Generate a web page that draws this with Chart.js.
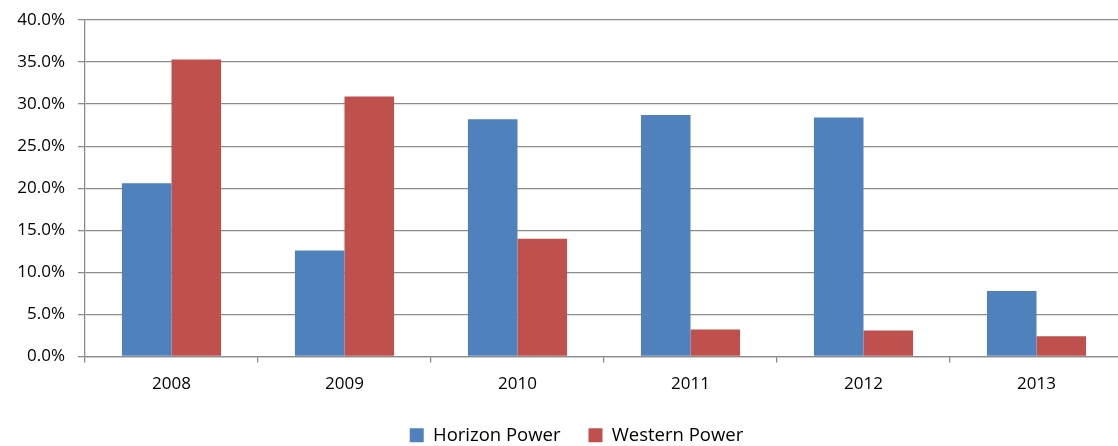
<!DOCTYPE html>
<html>
<head>
<meta charset="utf-8">
<script src="https://cdn.jsdelivr.net/npm/chart.js@4/dist/chart.umd.min.js"></script>
<style>
  html, body { margin: 0; padding: 0; background: #fff; overflow: hidden; }
  #wrap { width: 1126px; height: 446px; position: relative; }
</style>
</head>
<body>
<div id="wrap"><canvas id="barChart"></canvas></div>
<script>
const years = ["2008", "2009", "2010", "2011", "2012", "2013"];
const horizonPower = [20.6, 12.6, 28.2, 28.7, 28.4, 7.8];
const westernPower = [35.3, 30.9, 14.0, 3.2, 3.1, 2.4];
const yTicks = [0, 5, 10, 15, 20, 25, 30, 35, 40];

const axisGrey = '#8c8c8c';
const fontFamily = "'Open Sans', 'Liberation Sans', sans-serif";
const labelFont = { family: fontFamily, size: 17 };

const data = {
  labels: years,
  datasets: [
    {
      label: 'Horizon Power',
      data: horizonPower,
      backgroundColor: '#4F81BD',
      borderWidth: 0
    },
    {
      label: 'Western Power',
      data: westernPower,
      backgroundColor: '#C0504D',
      borderWidth: 0
    }
  ]
};

// legend box is taller than needed, trim it so it sits lower like the original,
// and nudge it right a bit (the original is centred under the plot, not the canvas)
const legendTweak = {
  id: 'legendTweak',
  beforeLayout(chart) {
    const legend = chart.legend;
    if (!legend || legend._patched) return;
    const fit = legend.fit;
    legend.fit = function () {
      fit.call(this);
      this.height = 48;
    };
    legend._patched = true;
  },
  afterLayout(chart) {
    const legend = chart.legend;
    if (!legend) return;
    legend.left += 15;
    legend.right += 15;
  }
};

const options = {
  responsive: true,
  maintainAspectRatio: false,
  animation: false,
  layout: { padding: { top: 20, right: 3, left: 0, bottom: 0 } },
  datasets: {
    bar: { categoryPercentage: 0.573, barPercentage: 1.0 }
  },
  scales: {
    x: {
      grid: {
        offset: true,
        drawOnChartArea: false,
        color: axisGrey,
        lineWidth: 1.3,
        tickLength: 6
      },
      border: { color: axisGrey, width: 1.3 },
      ticks: { color: '#000', font: labelFont, padding: 11 },
      afterFit: function (scale) { scale.height = 41.5; }
    },
    y: {
      min: 0,
      max: 40,
      afterBuildTicks: function (scale) {
        scale.ticks = yTicks.map(v => ({ value: v }));
      },
      grid: { color: axisGrey, lineWidth: 1.3, tickLength: 7 },
      border: { color: axisGrey, width: 1.3 },
      ticks: {
        color: '#000',
        font: labelFont,
        padding: 13,
        callback: v => v.toFixed(1) + '%'
      },
      afterFit: function (scale) {
        scale.width = 85;
        scale.paddingTop = 0;
        scale.paddingBottom = 0;
      }
    }
  },
  plugins: {
    legend: {
      display: true,
      position: 'bottom',
      labels: {
        boxWidth: 14,
        boxHeight: 14,
        padding: 28,
        color: '#000',
        font: { family: fontFamily, size: 18.5 }
      }
    },
    tooltip: { enabled: false }
  }
};

new Chart(document.getElementById('barChart').getContext('2d'), {
  type: 'bar',
  data: data,
  options: options,
  plugins: [legendTweak]
});
</script>
</body>
</html>
